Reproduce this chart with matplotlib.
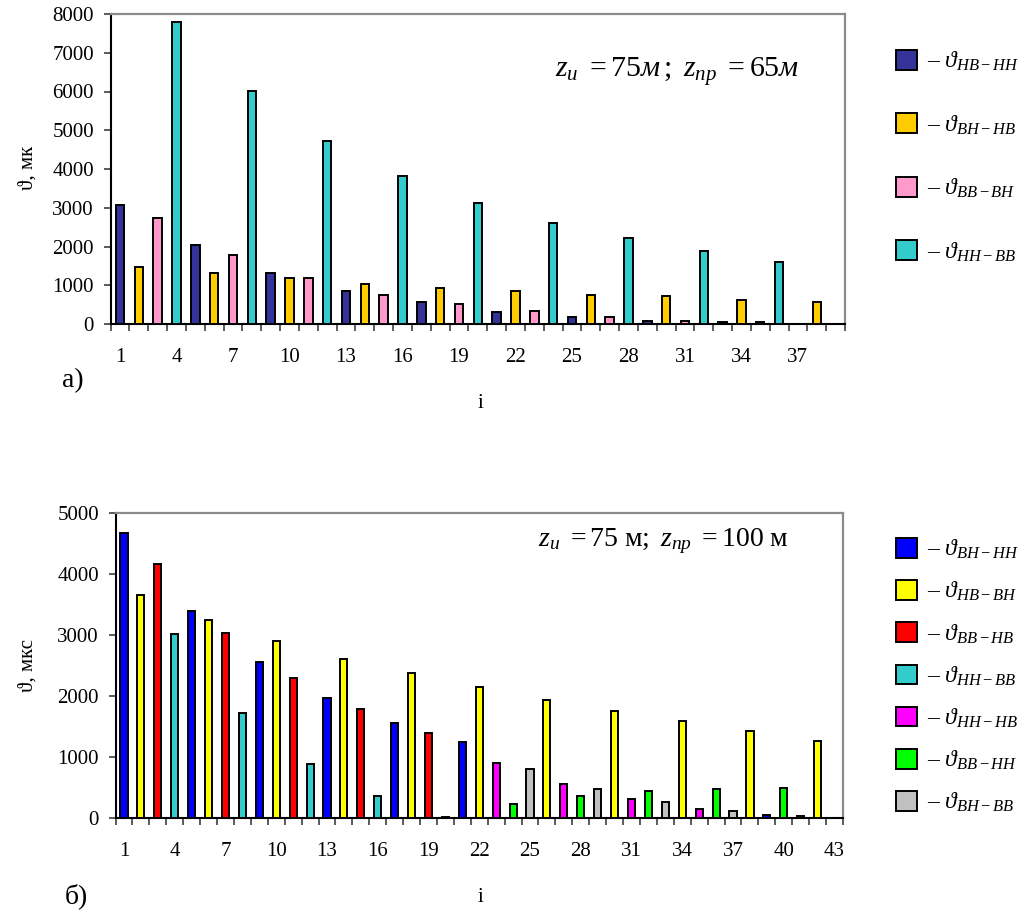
import matplotlib
matplotlib.use("Agg")
import matplotlib.pyplot as plt
from matplotlib.ticker import FixedLocator, MultipleLocator

plt.rcParams['font.family'] = ['Liberation Serif', 'DejaVu Serif']
plt.rcParams['mathtext.fontset'] = 'custom'
plt.rcParams['mathtext.rm'] = 'Liberation Serif'
plt.rcParams['mathtext.it'] = 'Liberation Serif:italic'
plt.rcParams['mathtext.bf'] = 'Liberation Serif:bold'

# ---------------- data: panel a) ----------------
top_n = 39
top_tick_labels = [1, 4, 7, 10, 13, 16, 19, 22, 25, 28, 31, 34, 37]
top_names = ['НВ-НН', 'ВН-НВ', 'ВВ-ВН', 'НН-ВВ']
top_colors = ['#333399', '#FFCC00', '#FF99CC', '#33CCCC']
top_cat = [
    [1, 5, 9, 13, 17, 21, 25, 29, 33, 37],
    [2, 6, 10, 14, 18, 22, 26, 30, 34, 38],
    [3, 7, 11, 15, 19, 23, 27, 31, 35, 39],
    [4, 8, 12, 16, 20, 24, 28, 32, 36],
]
top_hb_hh = [3080, 2030, 1320, 850, 560, 320, 190, 90, 50, 0]
top_bh_hb = [1470, 1320, 1180, 1040, 940, 850, 760, 710, 610, 570]
top_bb_bh = [2740, 1790, 1180, 750, 520, 330, 190, 90, 50, 0]
top_hh_bb = [7800, 6010, 4720, 3830, 3120, 2610, 2220, 1890, 1610]
top_vals = [top_hb_hh, top_bh_hb, top_bb_bh, top_hh_bb]

# ---------------- data: panel б) ----------------
bot_n = 43
bot_tick_labels = [1, 4, 7, 10, 13, 16, 19, 22, 25, 28, 31, 34, 37, 40, 43]
bot_names = ['ВН-НН', 'НВ-ВН', 'ВВ-НВ', 'НН-ВВ', 'НН-НВ', 'ВВ-НН', 'ВН-ВВ']
bot_colors = ['#0000FF', '#FFFF00', '#FF0000', '#33CCCC', '#FF00FF', '#00FF00', '#C0C0C0']
bot_cat = [
    [1, 5, 9, 13, 17, 21, 39],
    [2, 6, 10, 14, 18, 22, 26, 30, 34, 38, 42],
    [3, 7, 11, 15, 19],
    [4, 8, 12, 16, 20],
    [23, 27, 31, 35],
    [24, 28, 32, 36, 40],
    [25, 29, 33, 37, 41],
]
bot_bh_hh = [4670, 3400, 2560, 1970, 1560, 1250, 55]
bot_hb_bh = [3650, 3250, 2900, 2610, 2370, 2140, 1940, 1760, 1590, 1430, 1270]
bot_bb_hb = [4160, 3040, 2300, 1780, 1400]
bot_hh_bb = [3010, 1720, 885, 360, 10]
bot_hh_hb = [900, 557, 317, 148]
bot_bb_hh = [224, 366, 443, 481, 486]
bot_bh_bb = [798, 481, 262, 115, 38]
bot_vals = [bot_bh_hh, bot_hb_bh, bot_bb_hb, bot_hh_bb, bot_hh_hb, bot_bb_hh, bot_bh_bb]

W, H = 1022, 910
fig = plt.figure(figsize=(W / 100, H / 100), dpi=100)


def style_axes(ax, n, labels, ymax, ystep):
    ax.set_xlim(0.5, n + 0.5)
    ax.set_ylim(0, ymax)
    ax.yaxis.set_major_locator(MultipleLocator(ystep))
    ax.xaxis.set_major_locator(FixedLocator(labels))
    ax.set_xticklabels([str(v) for v in labels])
    ax.xaxis.set_minor_locator(FixedLocator([k + 0.5 for k in range(0, n + 1)]))
    ax.tick_params(axis='x', which='major', length=0, pad=17, labelsize=15)
    ax.tick_params(axis='x', which='minor', length=5, width=1.2, direction='out', color='#404040')
    ax.tick_params(axis='y', which='major', length=5, width=1.2, direction='out', pad=7,
                   labelsize=15, color='#404040')
    for s in ['left', 'bottom']:
        ax.spines[s].set_color('black')
        ax.spines[s].set_linewidth(1.5)
    for s in ['top', 'right']:
        ax.spines[s].set_color('#8C8C8C')
        ax.spines[s].set_linewidth(1.6)


# ---------------- panel a) ----------------
ax1 = fig.add_axes([110.6 / W, 1 - 324 / H, (845 - 110.6) / W, 310 / H])
handles1 = []
for cats, vals, col in zip(top_cat, top_vals, top_colors):
    b = ax1.bar(cats, vals, width=0.45, color=col, edgecolor='black', linewidth=1.4, zorder=3)
    handles1.append(b)
style_axes(ax1, top_n, top_tick_labels, 8000, 1000)
ax1.text(0.771, 0.813, r'$z_{и}\ =75м\,;\ z_{пр}\ =65м$', transform=ax1.transAxes,
         ha='center', va='center', fontsize=21.5)
fig.legend(handles1, ['– $\\vartheta_{' + n + '}$' for n in top_names],
           loc='upper left', bbox_to_anchor=(896 / W, 1 - 50 / H), frameon=False,
           fontsize=17, handlelength=0.9, handleheight=0.9, handletextpad=0.42,
           labelspacing=1.7, borderpad=0, borderaxespad=0)
fig.text(28 / W, 1 - 168 / H, 'ϑ, мк', rotation=90, ha='center', va='center', fontsize=15)
fig.text(73 / W, 1 - 381 / H, 'а)', ha='center', va='center', fontsize=20)
fig.text(480 / W, 1 - 403 / H, 'i', ha='center', va='center', fontsize=15)

# ---------------- panel б) ----------------
ax2 = fig.add_axes([115.5 / W, 1 - 818 / H, (843 - 115.5) / W, 305 / H])
handles2 = []
for cats, vals, col in zip(bot_cat, bot_vals, bot_colors):
    b = ax2.bar(cats, vals, width=0.42, color=col, edgecolor='black', linewidth=1.4, zorder=3)
    handles2.append(b)
style_axes(ax2, bot_n, bot_tick_labels, 5000, 1000)
ax2.text(0.753, 0.908, r'$z_{и}\ =75\ \mathrm{м};\ z_{пр}\ =100\ \mathrm{м}$',
         transform=ax2.transAxes, ha='center', va='center', fontsize=20)
fig.legend(handles2, ['– $\\vartheta_{' + n + '}$' for n in bot_names],
           loc='upper left', bbox_to_anchor=(896 / W, 1 - 538 / H), frameon=False,
           fontsize=17, handlelength=0.9, handleheight=0.9, handletextpad=0.42,
           labelspacing=0.8, borderpad=0, borderaxespad=0)
fig.text(28 / W, 1 - 665 / H, 'ϑ, мкс', rotation=90, ha='center', va='center', fontsize=15)
fig.text(76 / W, 1 - 896 / H, 'б)', ha='center', va='center', fontsize=20)
fig.text(480 / W, 1 - 898 / H, 'i', ha='center', va='center', fontsize=15)

fig.savefig('out.png', dpi=100)
